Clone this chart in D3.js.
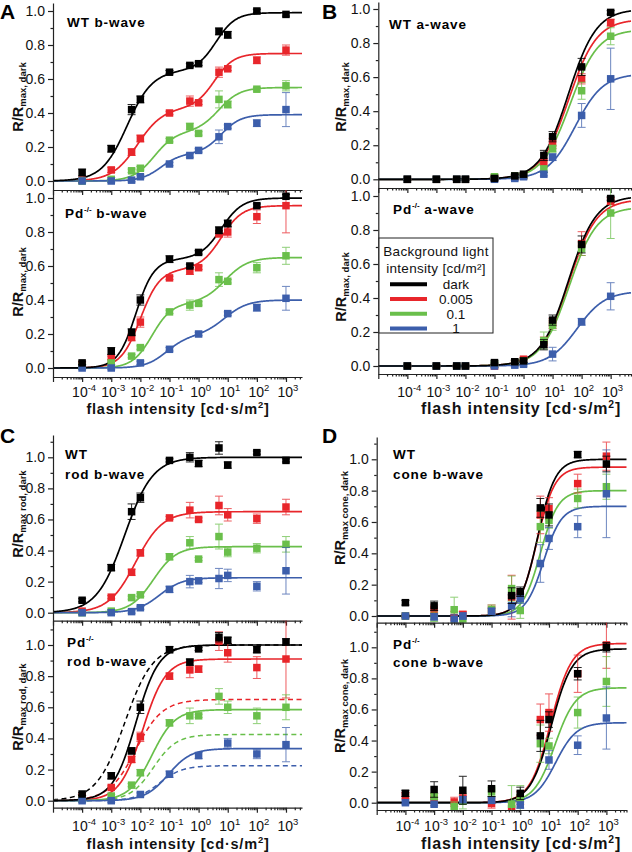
<!DOCTYPE html>
<html><head><meta charset="utf-8">
<script src="https://cdn.jsdelivr.net/npm/d3@7"></script>
<style>body{margin:0;background:#fff}</style>
</head><body>
<svg id="c" width="632" height="852" xmlns="http://www.w3.org/2000/svg"></svg>
<script>
// ---------------- DATA ----------------
const flashX = [1e-4, 1e-3, 5e-3, 1e-2, 0.1, 0.5, 1, 5, 10, 100, 1000];
const seriesNames = ["dark", "0.005", "0.1", "1"];
const seriesColors = ["#000000", "#e8262b", "#6abf4b", "#3c5eab"];
const legendTitle = ["Background light", "intensity [cd/m\u00B2]"];
const xTickExps = [-4, -3, -2, -1, 0, 1, 2, 3];
const yTickVals = [0, 0.2, 0.4, 0.6, 0.8, 1.0];

// A top: WT b-wave   (series order: dark, 0.005, 0.1, 1)
const wtB_dark = [0.05,0.19,0.42,0.48,0.64,0.68,0.69,0.88,0.86,1.00,0.98];
const wtB_r005 = [0.005,0.065,0.17,0.25,0.40,0.47,0.46,0.64,0.66,0.71,0.77];
const wtB_r01  = [0.0,0.01,0.06,0.075,0.24,0.32,0.28,0.48,0.45,0.54,0.56];
const wtB_r1   = [0.0,0.0,0.005,0.025,0.10,0.15,0.18,0.26,0.32,0.34,0.42];
const wtB_err = [
 [0.02,0.02,0.03,0.02,0.01,0.01,0.01,0.02,0.02,0.01,0.01],
 [0.01,0.015,0.02,0.02,0.01,0.03,0.01,0.03,0.01,0.02,0.03],
 [0.01,0.01,0.01,0.01,0.01,0.02,0.01,0.05,0.02,0.01,0.03],
 [0.01,0.01,0.01,0.01,0.01,0.01,0.01,0.04,0.01,0.02,0.10]];
const wtB_fit = [[[0.65,3.5e-3,1.0],[0.34,4,1.3]], [[0.43,8e-3,1.0],[0.32,3.5,1.3]],
                 [[0.29,0.03,1.2],[0.26,5,1.2]],   [[0.16,0.05,1.3],[0.23,6,1.3]]];

// A bottom: Pd-/- b-wave
const pdB_dark = [0.03,0.10,0.21,0.40,0.64,0.60,0.68,0.81,0.85,0.955,1.01];
const pdB_r005 = [0.02,0.06,0.18,0.27,0.53,0.57,0.59,0.79,0.80,0.89,0.955];
const pdB_r01  = [0.01,0.03,0.07,0.12,0.33,0.37,0.38,0.52,0.51,0.59,0.66];
const pdB_r1   = [0.0,0.0,null,0.03,0.11,null,0.20,null,0.32,0.355,0.41];
const pdB_err = [
 [0.01,0.02,0.02,0.03,0.02,0.01,0.01,0.02,0.02,0.01,0.01],
 [0.01,0.01,0.02,0.03,0.01,0.02,0.01,0.02,0.03,0.04,0.16],
 [0.01,0.01,0.01,0.01,0.01,0.03,0.01,0.04,0.01,0.03,0.05],
 [0.01,0.01,0,0.01,0.01,0,0.01,0,0.01,0.02,0.07]];
const pdB_fit = [[[0.64,7e-3,1.4],[0.36,6,1.2]], [[0.58,1e-2,1.3],[0.375,6,1.2]],
                 [[0.38,0.025,1.3],[0.27,8,1.1]], [[0.19,0.08,1.2],[0.21,8,1.1]]];

// B top: WT a-wave
const wtA_dark = [0,0,0,0,0.005,0.02,0.03,0.14,0.25,0.66,0.98];
const wtA_r005 = [0,0,0,0,0.01,0.015,0.02,0.10,0.21,0.59,0.92];
const wtA_r01  = [0,0,0,0,0.015,0.02,0.02,0.06,0.18,0.52,0.84];
const wtA_r1   = [0,0,0,0,0,0.005,0.015,0.03,0.13,0.375,0.59];
const wtA_err = [
 [0.005,0.005,0.005,0.005,0.01,0.01,0.01,0.03,0.03,0.05,0.01],
 [0.005,0.005,0.005,0.005,0.01,0.01,0.01,0.02,0.03,0.03,0.02],
 [0.005,0.005,0.005,0.005,0.01,0.01,0.01,0.02,0.02,0.05,0.05],
 [0.005,0.005,0.005,0.005,0.01,0.01,0.01,0.01,0.02,0.07,0.18]];
const wtA_fit = [[[1.0,35,0.9]], [[0.94,36,0.9]], [[0.88,40,0.9]], [[0.62,60,0.9]]];

// B bottom: Pd-/- a-wave
const pdA_dark = [0,0,0,0,0.02,0.025,0.03,0.125,0.27,0.715,0.985];
const pdA_r005 = [0,0,0,0,0.0,0.02,0.04,0.14,0.25,0.72,0.97];
const pdA_r01  = [0,0,0,0,0.01,0.02,0.03,0.15,0.24,0.69,0.90];
const pdA_r1   = [0,0,0,0,0,0.005,0.01,null,0.07,0.26,0.41];
const pdA_err = [
 [0.005,0.005,0.005,0.005,0.01,0.01,0.01,0.03,0.03,0.05,0.01],
 [0.005,0.005,0.005,0.005,0.01,0.01,0.01,0.03,0.03,0.07,0.02],
 [0.005,0.005,0.005,0.005,0.01,0.01,0.01,0.05,0.03,0.04,0.15],
 [0.005,0.005,0.005,0.005,0.01,0.01,0.01,0,0.04,0.02,0.08]];
const pdA_fit = [[[1.0,35,0.91]], [[0.98,36,0.91]], [[0.935,37,0.91]], [[0.44,70,0.9]]];

// C top: WT rod b-wave
const wtRod_dark = [0.08,0.29,0.65,0.74,0.98,1.0,0.96,1.06,0.95,1.03,0.98];
const wtRod_r005 = [0.01,0.10,0.26,0.385,0.61,0.66,0.60,0.69,0.63,0.605,0.68];
const wtRod_r01  = [0.0,0.01,0.097,0.115,0.36,0.45,0.345,0.49,0.39,0.415,0.44];
const wtRod_r1   = [0,0,0.007,0.032,0.15,0.20,0.205,0.22,0.24,0.17,0.27];
const wtRod_err = [
 [0.01,0.02,0.05,0.03,0.01,0.03,0.02,0.04,0.02,0.01,0.01],
 [0.01,0.01,0.02,0.02,0.01,0.05,0.01,0.06,0.04,0.03,0.05],
 [0.01,0.01,0.01,0.01,0.02,0.04,0.01,0.08,0.03,0.03,0.05],
 [0.01,0.01,0.01,0.01,0.02,0.04,0.01,0.065,0.04,0.03,0.15]];
const wtRod_fit = [[[1.0,2.9e-3,0.9]], [[0.65,6.9e-3,0.94]], [[0.425,0.028,1.1]], [[0.225,0.045,1.1]]];

// C bottom: Pd-/- rod b-wave
const pdRod_dark = [0.043,0.16,0.32,0.60,0.97,0.89,0.975,1.05,1.03,0.97,1.02];
const pdRod_r005 = [0.025,0.085,0.265,0.41,0.80,0.84,0.845,1.025,0.95,0.855,0.91];
const pdRod_r01  = [0.01,0.03,0.10,0.18,0.50,0.545,0.545,0.67,0.60,0.545,0.60];
const pdRod_r1   = [0,0,null,0.04,0.17,null,0.29,null,0.37,0.30,0.36];
const pdRod_err = [
 [0.01,0.02,0.02,0.04,0.02,0.02,0.01,0.03,0.02,0.02,0.02],
 [0.01,0.01,0.02,0.03,0.02,0.05,0.02,0.06,0.06,0.07,0.25],
 [0.01,0.01,0.01,0.02,0.02,0.05,0.01,0.05,0.04,0.05,0.08],
 [0.01,0.01,0,0.01,0.02,0,0.02,0,0.03,0.03,0.11]];
const pdRod_fit = [[[1.0,7e-3,1.1]], [[0.91,0.012,1.1]], [[0.585,0.025,1.1]], [[0.335,0.09,1.1]]];

// D top: WT cone b-wave
const wtCone_dark = [0.085,0.065,null,null,null,0.13,0.155,0.69,0.645,1.03,0.97];
const wtCone_r005 = [0.0,0.04,-0.01,0.01,0.04,0.12,0.145,0.645,0.685,0.845,1.02];
const wtCone_r01  = [0.0,-0.005,0.04,-0.035,0.04,0.175,0.035,0.57,0.61,0.75,0.825];
const wtCone_r1   = [0,-0.005,-0.02,0.0,0.03,0.065,0.11,0.335,0.495,0.57,0.78];
const wtCone_err = [
 [0.015,0.03,0,0,0,0.05,0.03,0.06,0.07,0.02,0.05],
 [0.01,0.03,0.04,0.02,0.03,0.14,0.03,0.12,0.07,0.06,0.09],
 [0.01,0.03,0.08,0.02,0.03,0.08,0.05,0.10,0.05,0.06,0.08],
 [0.01,0.02,0.03,0.02,0.02,0.07,0.03,0.12,0.07,0.07,0.28]];
const wtCone_fit = [[[1.0,4,1.4]], [[0.95,3.8,1.4]], [[0.80,5,1.4]], [[0.70,6.5,1.4]]];

// D bottom: Pd-/- cone b-wave
const pdCone_dark = [0.06,0.085,null,0.08,0.09,null,0.06,0.43,0.535,0.83,1.0];
const pdCone_r005 = [0.045,0.03,0.005,0.03,-0.005,-0.04,0.03,0.535,0.58,0.83,1.015];
const pdCone_r01  = [null,0.04,-0.025,0.01,0.07,-0.01,0.03,0.38,0.365,0.58,0.78];
const pdCone_r1   = [0,-0.01,null,0.02,0.015,null,-0.015,null,0.275,0.37,0.545];
const pdCone_err = [
 [0.02,0.05,0,0.09,0.05,0,0.04,0.10,0.05,0.04,0.03],
 [0.02,0.03,0.03,0.02,0.03,0.04,0.04,0.10,0.12,0.12,0.15],
 [0,0.02,0.03,0.05,0.03,0.12,0.08,0.12,0.05,0.10,0.16],
 [0.01,0.01,0,0.02,0.02,0,0.02,0,0.06,0.06,0.20]];
const pdCone_fit = [[[0.99,12,1.2]], [[1.025,11.5,1.2]], [[0.74,16,1.2]], [[0.515,17,1.2]]];

// ---------------- LAYOUT ----------------
const FONT = "'Liberation Sans', Arial, sans-serif";
const panels = [
 {id:"At", x0:53, x1:302, xMaxExp:3.55, y0:181, y1:11, top:3, bottom:190, labels:false, minor11:false,
  vals:[wtB_dark,wtB_r005,wtB_r01,wtB_r1], errs:wtB_err, fits:wtB_fit,
  letter:"A", title:[["WT b-wave",67,27]], ysub:"max, dark", ytx:23, yty:97},
 {id:"Ab", x0:53, x1:302, xMaxExp:3.55, y0:368, y1:198, top:190, bottom:377, labels:true, minor11:false,
  vals:[pdB_dark,pdB_r005,pdB_r01,pdB_r1], errs:pdB_err, fits:pdB_fit,
  title:[["PD b-wave",65,218]], ysub:"max, dark", ytx:23, yty:282, xtx:178, xty:414, xfs:14.5, lbl:397},
 {id:"Bt", x0:378.3, x1:631, xMaxExp:3.7, y0:179.3, y1:9, top:2, bottom:188, labels:false, minor11:false,
  vals:[wtA_dark,wtA_r005,wtA_r01,wtA_r1], errs:wtA_err, fits:wtA_fit,
  letter:"B", title:[["WT a-wave",389,29]], ysub:"max, dark", ytx:346, yty:97},
 {id:"Bb", x0:378.3, x1:631, xMaxExp:3.7, y0:366, y1:196, top:188, bottom:374, labels:true, minor11:false,
  vals:[pdA_dark,pdA_r005,pdA_r01,pdA_r1], errs:pdA_err, fits:pdA_fit,
  title:[["PD a-wave",393,214]], ysub:"max, dark", ytx:346, yty:287, xtx:521, xty:414, xfs:16, lbl:397, legend:true},
 {id:"Ct", x0:53, x1:302, xMaxExp:3.55, y0:612.7, y1:457.3, top:435, bottom:620.7, labels:false, minor11:true,
  vals:[wtRod_dark,wtRod_r005,wtRod_r01,wtRod_r1], errs:wtRod_err, fits:wtRod_fit,
  letter:"C", title:[["WT",65,459],["rod b-wave",65,479]], ysub:"max rod, dark", ytx:23, yty:514},
 {id:"Cb", x0:53, x1:302, xMaxExp:3.55, y0:800.7, y1:645, top:620.7, bottom:807.7, labels:true, minor11:true,
  vals:[pdRod_dark,pdRod_r005,pdRod_r01,pdRod_r1], errs:pdRod_err, fits:pdRod_fit, dash:wtRod_fit,
  title:[["PD",67,647],["rod b-wave",67,666]], ysub:"max rod, dark", ytx:23, yty:707, xtx:178, xty:849, xfs:14.5, lbl:831},
 {id:"Dt", x0:376.7, x1:626.5, xMaxExp:3.7, y0:616, y1:459.3, top:437, bottom:622.7, labels:false, minor11:true,
  vals:[wtCone_dark,wtCone_r005,wtCone_r01,wtCone_r1], errs:wtCone_err, fits:wtCone_fit,
  letter:"D", title:[["WT",393,459],["cone b-wave",393,479]], ysub:"max cone, dark", ytx:345, yty:518},
 {id:"Db", x0:376.7, x1:626.5, xMaxExp:3.7, y0:802.7, y1:647.3, top:622.7, bottom:810, labels:true, minor11:true,
  vals:[pdCone_dark,pdCone_r005,pdCone_r01,pdCone_r1], errs:pdCone_err, fits:pdCone_fit,
  title:[["PD",393,649],["cone b-wave",393,667]], ysub:"max cone, dark", ytx:345, yty:706, xtx:521, xty:849, xfs:16, lbl:831}
];

const svg = d3.select("#c");
const defs = svg.append("defs");

function hill(x, comps) {
  let s = 0;
  for (const [a, k, n] of comps) { const t = Math.pow(x, n); s += a * t / (t + Math.pow(k, n)); }
  return s;
}

function panelText(g, str, x, y) {
  const t = g.append("text").attr("x", x).attr("y", y)
    .attr("font-family", FONT).attr("font-weight", "bold").attr("font-size", 13.5)
    .attr("letter-spacing", 0.9).attr("fill", "#000");
  if (str.startsWith("PD")) {
    t.append("tspan").text("Pd");
    t.append("tspan").attr("font-size", 8).attr("dy", -6).attr("letter-spacing", 0).text("-/-");
    const rest = str.slice(2);
    if (rest.length) t.append("tspan").attr("dy", 6).text(rest);
  } else t.text(str);
}

const drawOrder = [1, 2, 3, 0];

panels.forEach(p => {
  const g = svg.append("g");
  const span = p.y0 - p.y1;
  const vBot = (p.y0 - p.bottom) / span, vTop = (p.y0 - p.top) / span;
  const x = d3.scaleLog().domain([1e-5, Math.pow(10, p.xMaxExp)]).range([p.x0, p.x1]);
  const y = d3.scaleLinear().domain([vBot, vTop]).range([p.bottom, p.top]);

  defs.append("clipPath").attr("id", "clip" + p.id).append("rect")
    .attr("x", p.x0).attr("y", p.top).attr("width", p.x1 - p.x0 + 4).attr("height", p.bottom - p.top);
  const plot = g.append("g").attr("clip-path", `url(#clip${p.id})`);

  // curves
  const xs = d3.range(0, 501).map(i => Math.pow(10, -5 + i * (p.xMaxExp + 5) / 500));
  const line = d3.line().x(d => x(d[0])).y(d => y(d[1]));
  if (p.dash) {
    drawOrder.forEach(si => {
      plot.append("path").datum(xs.map(v => [v, hill(v, p.dash[si])]))
        .attr("d", line).attr("fill", "none").attr("stroke", seriesColors[si])
        .attr("stroke-width", 1.5).attr("stroke-dasharray", "5,3.5");
    });
  }
  drawOrder.forEach(si => {
    plot.append("path").datum(xs.map(v => [v, hill(v, p.fits[si])]))
      .attr("d", line).attr("fill", "none").attr("stroke", seriesColors[si]).attr("stroke-width", 1.7);
  });

  // error bars + markers
  const ms = 7.5, cap = 4;
  drawOrder.forEach(si => {
    const pts = flashX.map((fx, i) => ({x: fx, v: p.vals[si][i], e: p.errs[si][i]})).filter(d => d.v !== null);
    const eg = plot.append("g").attr("stroke", seriesColors[si]).attr("stroke-width", 1).attr("opacity", si === 0 ? 0.85 : 0.75);
    pts.filter(d => d.e > 0).forEach(d => {
      const cx = x(d.x), yt = y(d.v + d.e), yb = y(d.v - d.e);
      eg.append("line").attr("x1", cx).attr("x2", cx).attr("y1", yt).attr("y2", yb);
      eg.append("line").attr("x1", cx - cap).attr("x2", cx + cap).attr("y1", yt).attr("y2", yt);
      eg.append("line").attr("x1", cx - cap).attr("x2", cx + cap).attr("y1", yb).attr("y2", yb);
    });
    plot.append("g").selectAll("rect").data(pts).join("rect")
      .attr("x", d => x(d.x) - ms / 2).attr("y", d => y(d.v) - ms / 2)
      .attr("width", ms).attr("height", ms).attr("fill", seriesColors[si]);
  });

  // y axis
  const yMinor = [0.1, 0.3, 0.5, 0.7, 0.9].concat(p.minor11 ? [1.1] : []);
  const yAx = g.append("g").attr("transform", `translate(${p.x0},0)`)
    .call(d3.axisLeft(y).tickValues(yTickVals).tickSize(5).tickSizeOuter(0).tickPadding(3).tickFormat(d3.format(".1f")));
  g.append("g").attr("transform", `translate(${p.x0},0)`)
    .call(d3.axisLeft(y).tickValues(yMinor).tickSize(2.5).tickSizeOuter(0).tickFormat(""))
    .select(".domain").remove();
  yAx.selectAll("text").attr("font-family", FONT).attr("font-size", 14).attr("fill", "#111");

  // x axis
  const decades = d3.range(-5, 4).map(e => Math.pow(10, e));
  const xMinor = [];
  d3.range(-5, 4).forEach(e => { for (let m = 2; m <= 9; m++) { const v = m * Math.pow(10, e); if (Math.log10(v) <= p.xMaxExp) xMinor.push(v); } });
  g.append("g").attr("transform", `translate(0,${p.bottom})`)
    .call(d3.axisBottom(x).tickValues(decades).tickSize(5).tickSizeOuter(0).tickFormat(""));
  g.append("g").attr("transform", `translate(0,${p.bottom})`)
    .call(d3.axisBottom(x).tickValues(xMinor).tickSize(2.5).tickSizeOuter(0).tickFormat(""))
    .select(".domain").remove();
  g.selectAll(".domain, .tick line").attr("stroke", "#222").attr("stroke-width", 1.2);

  if (p.labels) {
    xTickExps.forEach(e => {
      const t = g.append("text").attr("x", x(Math.pow(10, e)) + 2).attr("y", p.lbl)
        .attr("text-anchor", "middle").attr("font-family", FONT).attr("font-size", 14).attr("fill", "#111");
      t.append("tspan").text("10");
      t.append("tspan").attr("dy", -6).attr("font-size", 9.5).text(String(e));
    });
    const xt = g.append("text").attr("x", p.xtx).attr("y", p.xty).attr("text-anchor", "middle")
      .attr("font-family", FONT).attr("font-weight", "bold").attr("font-size", p.xfs)
      .attr("letter-spacing", 0.8).attr("fill", "#111");
    xt.append("tspan").text("flash intensity [cd\u00B7s/m");
    xt.append("tspan").attr("font-size", p.xfs * 0.65).attr("dy", -6).text("2");
    xt.append("tspan").attr("dy", 6).text("]");
  }

  // y title
  const yt = g.append("text").attr("transform", `translate(${p.ytx},${p.yty}) rotate(-90)`)
    .attr("text-anchor", "middle").attr("font-family", FONT).attr("font-weight", "bold")
    .attr("font-size", 14.5).attr("fill", "#111");
  yt.append("tspan").text("R/R");
  yt.append("tspan").attr("font-size", 9.5).attr("dy", 2.5).text(p.ysub);

  // panel texts
  p.title.forEach(([s, tx, ty]) => panelText(g, s, tx, ty));
  if (p.letter) {
    g.append("text").attr("x", p.x0 < 100 ? 0 : 322).attr("y", p.top < 50 ? 19 : 443)
      .attr("font-family", FONT).attr("font-weight", "bold").attr("font-size", 21).attr("fill", "#000").text(p.letter);
  }

  if (p.legend) {
    const lg = g.append("g");
    lg.append("rect").attr("x", 379).attr("y", 238).attr("width", 114).attr("height", 95)
      .attr("fill", "#fff").attr("stroke", "#222").attr("stroke-width", 1);
    legendTitle.forEach((s, i) => {
      lg.append("text").attr("x", 436).attr("y", 256 + i * 16.5).attr("text-anchor", "middle")
        .attr("font-family", FONT).attr("font-size", 13.5).attr("letter-spacing", 0.3).attr("fill", "#111").text(s);
    });
    seriesNames.forEach((s, i) => {
      const ly = 284.3 + i * 14.7;
      lg.append("line").attr("x1", 390).attr("x2", 427).attr("y1", ly).attr("y2", ly)
        .attr("stroke", seriesColors[i]).attr("stroke-width", 4);
      lg.append("text").attr("x", 456).attr("y", ly + 5).attr("text-anchor", "middle")
        .attr("font-family", FONT).attr("font-size", 13.5).attr("fill", "#111").text(s);
    });
  }
});
</script>
</body></html>
